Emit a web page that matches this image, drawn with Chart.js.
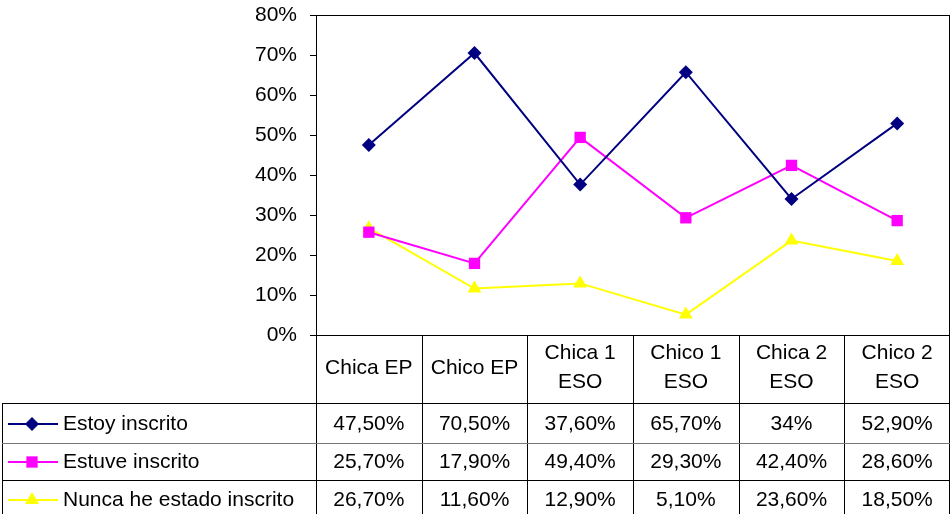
<!DOCTYPE html>
<html>
<head>
<meta charset="utf-8">
<script src="https://cdn.jsdelivr.net/npm/chart.js@4"></script>
<style>
  html, body { margin: 0; padding: 0; background: #ffffff; }
  #wrap { width: 952px; height: 514px; }
</style>
</head>
<body>
<div id="wrap"><canvas id="chart" width="952" height="514"></canvas></div>
<script>
// Data
const categories = [['Chica EP'], ['Chico EP'], ['Chica 1', 'ESO'], ['Chico 1', 'ESO'], ['Chica 2', 'ESO'], ['Chico 2', 'ESO']];
const seriesNames = ['Estoy inscrito', 'Estuve inscrito', 'Nunca he estado inscrito'];
const estoyInscrito = [47.5, 70.5, 37.6, 65.7, 34, 52.9];
const estuveInscrito = [25.7, 17.9, 49.4, 29.3, 42.4, 28.6];
const nuncaInscrito = [26.7, 11.6, 12.9, 5.1, 23.6, 18.5];
const yTicks = [0, 10, 20, 30, 40, 50, 60, 70, 80];

const FONT = '21px "Liberation Sans", Arial, sans-serif';

// Spanish style percent: 47,50% / 34%
function fmtPct(v) {
  return Number.isInteger(v) ? v + '%' : v.toFixed(2).replace('.', ',') + '%';
}

const seriesStyles = [
  { color: '#000080', pointStyle: 'rectRot', radius: 7 },
  { color: '#FF00FF', pointStyle: 'rect', radius: 8 },
  { color: '#FFFF00', pointStyle: 'triangle', radius: 8 }
];
const seriesData = [estoyInscrito, estuveInscrito, nuncaInscrito];

// Draws plot border and the data table under the plot
const dataTablePlugin = {
  id: 'dataTable',
  afterDraw(chart) {
    const ctx = chart.ctx;
    const area = chart.chartArea;
    const xs = chart.scales.x;
    const step = (area.right - area.left) / categories.length;
    const headerBottom = 403;
    const rowLines = [403, 443, 480, 514];
    const bottom = 514;

    ctx.save();
    ctx.strokeStyle = '#000000';
    ctx.lineWidth = 1;

    // plot border
    ctx.strokeRect(Math.round(area.left) + 0.5, Math.round(area.top) + 0.5,
      Math.round(area.right - area.left) - 1, Math.round(area.bottom - area.top));

    // vertical lines of the table
    for (let i = 0; i <= categories.length; i++) {
      const x = Math.round(area.left + i * step) + (i === categories.length ? -0.5 : 0.5);
      ctx.beginPath();
      ctx.moveTo(x, area.bottom);
      ctx.lineTo(x, bottom);
      ctx.stroke();
    }
    // legend column left edge
    ctx.beginPath();
    ctx.moveTo(2.5, headerBottom);
    ctx.lineTo(2.5, bottom);
    ctx.stroke();

    // horizontal lines
    rowLines.forEach((y, i) => {
      ctx.strokeStyle = i === 1 ? '#777777' : '#000000';
      ctx.beginPath();
      ctx.moveTo(2, y + 0.5);
      ctx.lineTo(area.right, y + 0.5);
      ctx.stroke();
    });

    ctx.fillStyle = '#000000';
    ctx.font = FONT;
    ctx.textAlign = 'center';
    ctx.textBaseline = 'middle';

    // header (category labels)
    categories.forEach((lines, i) => {
      const cx = xs.getPixelForValue(i);
      if (lines.length === 1) {
        ctx.fillText(lines[0], cx, 368);
      } else {
        ctx.fillText(lines[0], cx, 353);
        ctx.fillText(lines[1], cx, 382);
      }
    });

    // rows
    const rowY = [424, 462, 500];
    seriesData.forEach((values, r) => {
      const st = seriesStyles[r];
      const y = rowY[r];
      // legend key
      ctx.strokeStyle = st.color;
      ctx.lineWidth = 2;
      ctx.beginPath();
      ctx.moveTo(8, y);
      ctx.lineTo(58, y);
      ctx.stroke();
      ctx.fillStyle = st.color;
      Chart.helpers.drawPoint(ctx, { pointStyle: st.pointStyle, radius: st.radius, rotation: 0, borderWidth: 0 }, 32, y);
      ctx.fillStyle = '#000000';
      ctx.textAlign = 'left';
      ctx.fillText(seriesNames[r], 63, y);
      ctx.textAlign = 'center';
      values.forEach((v, i) => {
        ctx.fillText(fmtPct(v), xs.getPixelForValue(i), y);
      });
    });
    ctx.restore();
  }
};

new Chart(document.getElementById('chart'), {
  type: 'line',
  data: {
    labels: categories.map(c => c.join(' ')),
    datasets: seriesData.map((values, i) => ({
      label: seriesNames[i],
      data: values,
      borderColor: seriesStyles[i].color,
      backgroundColor: seriesStyles[i].color,
      pointBackgroundColor: seriesStyles[i].color,
      pointBorderColor: seriesStyles[i].color,
      pointBorderWidth: 0,
      pointStyle: seriesStyles[i].pointStyle,
      pointRadius: seriesStyles[i].radius,
      borderWidth: 2,
      tension: 0,
      fill: false
    }))
  },
  options: {
    responsive: false,
    animation: false,
    layout: { autoPadding: false, padding: { top: 15, right: 2, bottom: 179, left: 0 } },
    plugins: {
      legend: { display: false },
      tooltip: { enabled: false }
    },
    scales: {
      x: {
        display: false,
        offset: true
      },
      y: {
        min: 0,
        max: 80,
        afterFit(scale) {
          scale.width = 316;
          // labels may overhang the plot top, like in the reference
          scale.paddingTop = 0;
          scale.paddingBottom = 0;
        },
        afterBuildTicks(scale) { scale.ticks = yTicks.map(v => ({ value: v })); },
        grid: {
          drawOnChartArea: false,
          drawTicks: true,
          tickLength: 6,
          tickColor: '#000000'
        },
        border: { display: true, color: '#000000', width: 1 },
        ticks: {
          padding: 13,
          color: '#000000',
          font: { family: '"Liberation Sans", Arial, sans-serif', size: 21 },
          callback: v => v + '%'
        }
      }
    }
  },
  plugins: [dataTablePlugin]
});
</script>
</body>
</html>
